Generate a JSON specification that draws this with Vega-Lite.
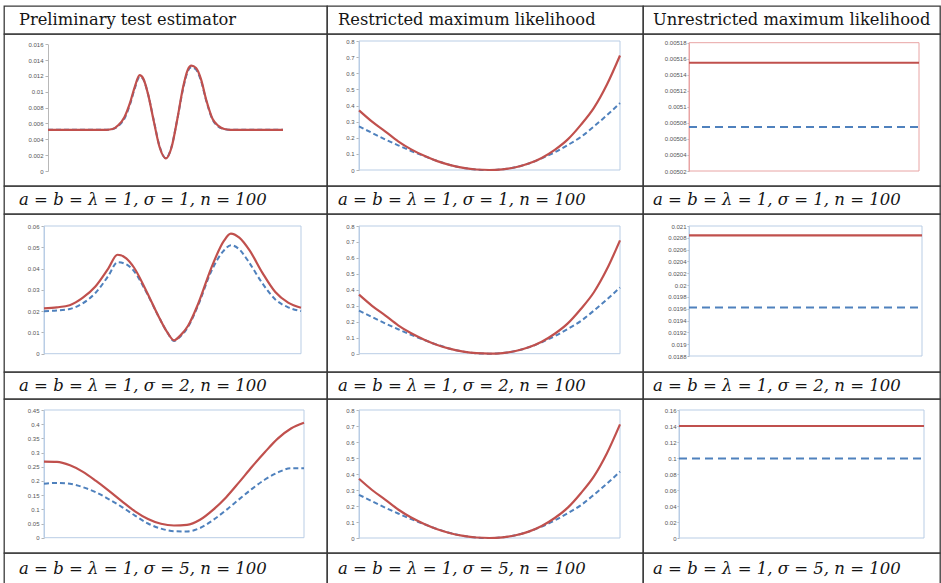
{
"$schema": "https://vega.github.io/schema/vega-lite/v6.json",
"padding": {"left": 3, "top": 5, "right": 2, "bottom": 0},
"background": "white",
"bounds": "flush",
"spacing": 0,
"columns": 3,
"config": {
  "view": {"stroke": "#3a3a3a", "strokeWidth": 1.3},
  "concat": {"spacing": 0},
  "axis": {"title": null, "grid": false, "labelFont": "Liberation Sans", "labelFontSize": 6, "labelColor": "#555555", "labelOverlap": false, "labelFlush": false, "labelBound": false, "labelSeparation": 0, "tickColor": "#b5b5b5", "tickSize": 3, "labelPadding": 2, "domainColor": "#b8b8b8", "format": "~g"},
  "text": {"font": "DejaVu Serif", "fontSize": 16.3, "color": "#151515", "align": "left", "baseline": "middle"}
},
"datasets": {
  "pte1": [
    {"x":0,"S1":0.0052,"S2":0.0052},{"x":0.1,"S1":0.0052,"S2":0.0052},{"x":0.2,"S1":0.0052,"S2":0.0052},{"x":0.25,"S1":0.0052,"S2":0.0052},
    {"x":0.275,"S1":0.0053,"S2":0.0053},{"x":0.3,"S1":0.0058,"S2":0.0057},{"x":0.325,"S1":0.0068,"S2":0.0066},{"x":0.35,"S1":0.0087,"S2":0.0085},
    {"x":0.37,"S1":0.0107,"S2":0.0105},{"x":0.39,"S1":0.0121,"S2":0.0119},{"x":0.405,"S1":0.0117,"S2":0.0116},{"x":0.425,"S1":0.0098,"S2":0.0098},
    {"x":0.45,"S1":0.0063,"S2":0.0064},{"x":0.475,"S1":0.0030,"S2":0.0031},{"x":0.502,"S1":0.0016,"S2":0.0016},{"x":0.525,"S1":0.0029,"S2":0.0030},
    {"x":0.55,"S1":0.0065,"S2":0.0065},{"x":0.575,"S1":0.0106,"S2":0.0104},{"x":0.595,"S1":0.0128,"S2":0.0126},{"x":0.61,"S1":0.0133,"S2":0.0131},
    {"x":0.63,"S1":0.0130,"S2":0.0128},{"x":0.65,"S1":0.0117,"S2":0.0115},{"x":0.675,"S1":0.0088,"S2":0.0087},{"x":0.7,"S1":0.0066,"S2":0.0065},
    {"x":0.725,"S1":0.0057,"S2":0.0056},{"x":0.75,"S1":0.0053,"S2":0.0053},{"x":0.775,"S1":0.0052,"S2":0.0052},{"x":0.9,"S1":0.0052,"S2":0.0052},
    {"x":1,"S1":0.0052,"S2":0.0052}
  ],
  "pte2": [
    {"x":0,"S1":0.0213,"S2":0.0200},{"x":0.05,"S1":0.0218,"S2":0.0203},{"x":0.1,"S1":0.0228,"S2":0.0210},{"x":0.15,"S1":0.0262,"S2":0.0236},
    {"x":0.2,"S1":0.0316,"S2":0.0285},{"x":0.25,"S1":0.0400,"S2":0.0365},{"x":0.286,"S1":0.0465,"S2":0.0430},{"x":0.32,"S1":0.0448,"S2":0.0420},
    {"x":0.35,"S1":0.0405,"S2":0.0388},{"x":0.4,"S1":0.0290,"S2":0.0285},{"x":0.45,"S1":0.0165,"S2":0.0165},{"x":0.48,"S1":0.0100,"S2":0.0100},
    {"x":0.506,"S1":0.0063,"S2":0.0060},{"x":0.53,"S1":0.0085,"S2":0.0080},{"x":0.56,"S1":0.0130,"S2":0.0125},{"x":0.6,"S1":0.0235,"S2":0.0228},
    {"x":0.65,"S1":0.0400,"S2":0.0385},{"x":0.7,"S1":0.0530,"S2":0.0485},{"x":0.727,"S1":0.0564,"S2":0.0510},{"x":0.76,"S1":0.0545,"S2":0.0490},
    {"x":0.8,"S1":0.0485,"S2":0.0425},{"x":0.85,"S1":0.0380,"S2":0.0330},{"x":0.9,"S1":0.0290,"S2":0.0255},{"x":0.95,"S1":0.0240,"S2":0.0218},
    {"x":1,"S1":0.0216,"S2":0.0200}
  ],
  "pte3": [
    {"x":0,"S1":0.268,"S2":0.19},{"x":0.05,"S1":0.267,"S2":0.193},{"x":0.1,"S1":0.255,"S2":0.19},{"x":0.15,"S1":0.232,"S2":0.178},
    {"x":0.2,"S1":0.200,"S2":0.16},{"x":0.25,"S1":0.165,"S2":0.135},{"x":0.3,"S1":0.128,"S2":0.108},{"x":0.35,"S1":0.093,"S2":0.078},
    {"x":0.4,"S1":0.066,"S2":0.05},{"x":0.45,"S1":0.049,"S2":0.032},{"x":0.5,"S1":0.043,"S2":0.023},{"x":0.55,"S1":0.045,"S2":0.022},
    {"x":0.6,"S1":0.063,"S2":0.034},{"x":0.65,"S1":0.098,"S2":0.062},{"x":0.7,"S1":0.142,"S2":0.097},{"x":0.75,"S1":0.195,"S2":0.135},
    {"x":0.8,"S1":0.25,"S2":0.172},{"x":0.85,"S1":0.302,"S2":0.205},{"x":0.9,"S1":0.35,"S2":0.23},{"x":0.95,"S1":0.385,"S2":0.245},
    {"x":1,"S1":0.405,"S2":0.245}
  ],
  "rml": [
    {"x":0,"S1":0.37,"S2":0.27},{"x":0.05,"S1":0.30,"S2":0.23},{"x":0.1,"S1":0.24,"S2":0.19},{"x":0.15,"S1":0.178,"S2":0.153},
    {"x":0.2,"S1":0.128,"S2":0.118},{"x":0.25,"S1":0.088,"S2":0.086},{"x":0.3,"S1":0.055,"S2":0.056},{"x":0.35,"S1":0.030,"S2":0.031},
    {"x":0.4,"S1":0.013,"S2":0.013},{"x":0.45,"S1":0.003,"S2":0.003},{"x":0.5,"S1":0.0,"S2":0.0},{"x":0.55,"S1":0.004,"S2":0.004},
    {"x":0.6,"S1":0.017,"S2":0.017},{"x":0.65,"S1":0.040,"S2":0.040},{"x":0.7,"S1":0.075,"S2":0.072},{"x":0.75,"S1":0.125,"S2":0.11},
    {"x":0.8,"S1":0.19,"S2":0.155},{"x":0.85,"S1":0.28,"S2":0.205},{"x":0.9,"S1":0.385,"S2":0.27},{"x":0.95,"S1":0.53,"S2":0.34},
    {"x":1,"S1":0.71,"S2":0.415}
  ],
  "uml1": [{"x":0,"S1":0.005155,"S2":0.005075},{"x":1,"S1":0.005155,"S2":0.005075}],
  "uml2": [{"x":0,"S1":0.02084,"S2":0.01962},{"x":1,"S1":0.02084,"S2":0.01962}],
  "uml3": [{"x":0,"S1":0.14,"S2":0.0995},{"x":1,"S1":0.14,"S2":0.0995}]
},
"concat": [
  {"width": 323, "height": 28, "data": {"values": [{"label": "Preliminary test estimator"}]}, "mark": {"type": "text", "dx": 15},
   "encoding": {"text": {"field": "label"}, "x": {"datum": 0, "type": "quantitative", "scale": {"domain": [0, 1]}, "axis": null}, "y": {"datum": 0.5, "type": "quantitative", "scale": {"domain": [0, 1]}, "axis": null}}},
  {"width": 316, "height": 28, "data": {"values": [{"label": "Restricted maximum likelihood"}]}, "mark": {"type": "text", "dx": 11},
   "encoding": {"text": {"field": "label"}, "x": {"datum": 0, "type": "quantitative", "scale": {"domain": [0, 1]}, "axis": null}, "y": {"datum": 0.5, "type": "quantitative", "scale": {"domain": [0, 1]}, "axis": null}}},
  {"width": 297, "height": 28, "data": {"values": [{"label": "Unrestricted maximum likelihood"}]}, "mark": {"type": "text", "dx": 10},
   "encoding": {"text": {"field": "label"}, "x": {"datum": 0, "type": "quantitative", "scale": {"domain": [0, 1]}, "axis": null}, "y": {"datum": 0.5, "type": "quantitative", "scale": {"domain": [0, 1]}, "axis": null}}},

  {"width": 323, "height": 152, "data": {"name": "pte1"}, "layer": [
    {"mark": {"type": "line", "color": "#4f81bd", "strokeWidth": 2, "strokeDash": [5, 3], "interpolate": "monotone"},
     "encoding": {"x": {"field": "x", "type": "quantitative", "axis": null, "scale": {"domain": [0, 1], "range": [44, 279], "nice": false, "zero": false}},
                  "y": {"field": "S2", "type": "quantitative", "scale": {"domain": [0, 0.016], "range": [137, 10.3], "nice": false, "zero": false},
                        "axis": {"offset": -44, "tickCount": 30, "labelOverlap": false, "values": [0,0.002,0.004,0.006,0.008,0.01,0.012,0.014,0.016]}}}},
    {"mark": {"type": "line", "color": "#c0504d", "strokeWidth": 2.2, "interpolate": "monotone"},
     "encoding": {"x": {"field": "x", "type": "quantitative"}, "y": {"field": "S1", "type": "quantitative"}}}
  ]},
  {"width": 316, "height": 152, "data": {"name": "rml"}, "layer": [
    {"data": {"values": [{}]}, "mark": {"type": "rect", "fill": "transparent", "stroke": "#b9cde5", "strokeWidth": 1},
     "encoding": {"x": {"datum": 0}, "x2": {"datum": 1}, "y": {"datum": 0}, "y2": {"datum": 0.8}}},
    {"mark": {"type": "line", "color": "#4f81bd", "strokeWidth": 2, "strokeDash": [5, 3], "interpolate": "monotone"},
     "encoding": {"x": {"field": "x", "type": "quantitative", "axis": null, "scale": {"domain": [0, 1], "range": [32, 293], "nice": false, "zero": false}},
                  "y": {"field": "S2", "type": "quantitative", "scale": {"domain": [0, 0.8], "range": [136, 7], "nice": false, "zero": false},
                        "axis": {"offset": -32, "tickCount": 30, "labelOverlap": false, "values": [0,0.1,0.2,0.3,0.4,0.5,0.6,0.7,0.8], "domainColor": "#b9cde5"}}}},
    {"mark": {"type": "line", "color": "#c0504d", "strokeWidth": 2.2, "interpolate": "monotone"},
     "encoding": {"x": {"field": "x", "type": "quantitative"}, "y": {"field": "S1", "type": "quantitative"}}}
  ]},
  {"width": 297, "height": 152, "data": {"name": "uml1"}, "layer": [
    {"data": {"values": [{}]}, "mark": {"type": "rect", "fill": "transparent", "stroke": "#e8a4a4", "strokeWidth": 1},
     "encoding": {"x": {"datum": 0}, "x2": {"datum": 1}, "y": {"datum": 0.00502}, "y2": {"datum": 0.00518}}},
    {"mark": {"type": "line", "color": "#4f81bd", "strokeWidth": 2, "strokeDash": [8, 5]},
     "encoding": {"x": {"field": "x", "type": "quantitative", "axis": null, "scale": {"domain": [0, 1], "range": [46, 276], "nice": false, "zero": false}},
                  "y": {"field": "S2", "type": "quantitative", "scale": {"domain": [0.00502, 0.00518], "range": [137, 8.7], "nice": false, "zero": false},
                        "axis": {"offset": -46, "tickCount": 30, "labelOverlap": false, "values": [0.00502,0.00504,0.00506,0.00508,0.0051,0.00512,0.00514,0.00516,0.00518], "tickSize": 2, "labelPadding": 1, "domainColor": "#e8a4a4"}}}},
    {"mark": {"type": "line", "color": "#c0504d", "strokeWidth": 2.2},
     "encoding": {"x": {"field": "x", "type": "quantitative"}, "y": {"field": "S1", "type": "quantitative"}}}
  ]},

  {"width": 323, "height": 28, "data": {"values": [{"label": "a = b = λ = 1, σ = 1, n = 100"}]}, "mark": {"type": "text", "dx": 15, "fontStyle": "italic", "fontSize": 16.5},
   "encoding": {"text": {"field": "label"}, "x": {"datum": 0, "type": "quantitative", "scale": {"domain": [0, 1]}, "axis": null}, "y": {"datum": 0.5, "type": "quantitative", "scale": {"domain": [0, 1]}, "axis": null}}},
  {"width": 316, "height": 28, "data": {"values": [{"label": "a = b = λ = 1, σ = 1, n = 100"}]}, "mark": {"type": "text", "dx": 11, "fontStyle": "italic", "fontSize": 16.5},
   "encoding": {"text": {"field": "label"}, "x": {"datum": 0, "type": "quantitative", "scale": {"domain": [0, 1]}, "axis": null}, "y": {"datum": 0.5, "type": "quantitative", "scale": {"domain": [0, 1]}, "axis": null}}},
  {"width": 297, "height": 28, "data": {"values": [{"label": "a = b = λ = 1, σ = 1, n = 100"}]}, "mark": {"type": "text", "dx": 10, "fontStyle": "italic", "fontSize": 16.5},
   "encoding": {"text": {"field": "label"}, "x": {"datum": 0, "type": "quantitative", "scale": {"domain": [0, 1]}, "axis": null}, "y": {"datum": 0.5, "type": "quantitative", "scale": {"domain": [0, 1]}, "axis": null}}},

  {"width": 323, "height": 158, "data": {"name": "pte2"}, "layer": [
    {"data": {"values": [{}]}, "mark": {"type": "rect", "fill": "transparent", "stroke": "#b9cde5", "strokeWidth": 1},
     "encoding": {"x": {"datum": 0}, "x2": {"datum": 1}, "y": {"datum": 0}, "y2": {"datum": 0.06}}},
    {"mark": {"type": "line", "color": "#4f81bd", "strokeWidth": 2, "strokeDash": [5, 3], "interpolate": "monotone"},
     "encoding": {"x": {"field": "x", "type": "quantitative", "axis": null, "scale": {"domain": [0, 1], "range": [40, 297], "nice": false, "zero": false}},
                  "y": {"field": "S2", "type": "quantitative", "scale": {"domain": [0, 0.06], "range": [139.7, 12], "nice": false, "zero": false},
                        "axis": {"offset": -40, "tickCount": 30, "labelOverlap": false, "values": [0,0.01,0.02,0.03,0.04,0.05,0.06], "domainColor": "#b9cde5"}}}},
    {"mark": {"type": "line", "color": "#c0504d", "strokeWidth": 2.2, "interpolate": "monotone"},
     "encoding": {"x": {"field": "x", "type": "quantitative"}, "y": {"field": "S1", "type": "quantitative"}}}
  ]},
  {"width": 316, "height": 158, "data": {"name": "rml"}, "layer": [
    {"data": {"values": [{}]}, "mark": {"type": "rect", "fill": "transparent", "stroke": "#b9cde5", "strokeWidth": 1},
     "encoding": {"x": {"datum": 0}, "x2": {"datum": 1}, "y": {"datum": 0}, "y2": {"datum": 0.8}}},
    {"mark": {"type": "line", "color": "#4f81bd", "strokeWidth": 2, "strokeDash": [5, 3], "interpolate": "monotone"},
     "encoding": {"x": {"field": "x", "type": "quantitative", "axis": null, "scale": {"domain": [0, 1], "range": [32, 293], "nice": false, "zero": false}},
                  "y": {"field": "S2", "type": "quantitative", "scale": {"domain": [0, 0.8], "range": [139.7, 12], "nice": false, "zero": false},
                        "axis": {"offset": -32, "tickCount": 30, "labelOverlap": false, "values": [0,0.1,0.2,0.3,0.4,0.5,0.6,0.7,0.8], "domainColor": "#b9cde5"}}}},
    {"mark": {"type": "line", "color": "#c0504d", "strokeWidth": 2.2, "interpolate": "monotone"},
     "encoding": {"x": {"field": "x", "type": "quantitative"}, "y": {"field": "S1", "type": "quantitative"}}}
  ]},
  {"width": 297, "height": 158, "data": {"name": "uml2"}, "layer": [
    {"data": {"values": [{}]}, "mark": {"type": "rect", "fill": "transparent", "stroke": "#b9cde5", "strokeWidth": 1},
     "encoding": {"x": {"datum": 0}, "x2": {"datum": 1}, "y": {"datum": 0.0188}, "y2": {"datum": 0.021}}},
    {"mark": {"type": "line", "color": "#4f81bd", "strokeWidth": 2, "strokeDash": [8, 5]},
     "encoding": {"x": {"field": "x", "type": "quantitative", "axis": null, "scale": {"domain": [0, 1], "range": [46, 279], "nice": false, "zero": false}},
                  "y": {"field": "S2", "type": "quantitative", "scale": {"domain": [0.0188, 0.021], "range": [142, 12], "nice": false, "zero": false},
                        "axis": {"offset": -46, "tickCount": 30, "labelOverlap": false, "values": [0.0188,0.019,0.0192,0.0194,0.0196,0.0198,0.02,0.0202,0.0204,0.0206,0.0208,0.021], "tickSize": 2, "labelPadding": 1, "domainColor": "#b9cde5"}}}},
    {"mark": {"type": "line", "color": "#c0504d", "strokeWidth": 2.2},
     "encoding": {"x": {"field": "x", "type": "quantitative"}, "y": {"field": "S1", "type": "quantitative"}}}
  ]},

  {"width": 323, "height": 27, "data": {"values": [{"label": "a = b = λ = 1, σ = 2, n = 100"}]}, "mark": {"type": "text", "dx": 15, "fontStyle": "italic", "fontSize": 16.5},
   "encoding": {"text": {"field": "label"}, "x": {"datum": 0, "type": "quantitative", "scale": {"domain": [0, 1]}, "axis": null}, "y": {"datum": 0.5, "type": "quantitative", "scale": {"domain": [0, 1]}, "axis": null}}},
  {"width": 316, "height": 27, "data": {"values": [{"label": "a = b = λ = 1, σ = 2, n = 100"}]}, "mark": {"type": "text", "dx": 11, "fontStyle": "italic", "fontSize": 16.5},
   "encoding": {"text": {"field": "label"}, "x": {"datum": 0, "type": "quantitative", "scale": {"domain": [0, 1]}, "axis": null}, "y": {"datum": 0.5, "type": "quantitative", "scale": {"domain": [0, 1]}, "axis": null}}},
  {"width": 297, "height": 27, "data": {"values": [{"label": "a = b = λ = 1, σ = 2, n = 100"}]}, "mark": {"type": "text", "dx": 10, "fontStyle": "italic", "fontSize": 16.5},
   "encoding": {"text": {"field": "label"}, "x": {"datum": 0, "type": "quantitative", "scale": {"domain": [0, 1]}, "axis": null}, "y": {"datum": 0.5, "type": "quantitative", "scale": {"domain": [0, 1]}, "axis": null}}},

  {"width": 323, "height": 154, "data": {"name": "pte3"}, "layer": [
    {"data": {"values": [{}]}, "mark": {"type": "rect", "fill": "transparent", "stroke": "#b9cde5", "strokeWidth": 1},
     "encoding": {"x": {"datum": 0}, "x2": {"datum": 1}, "y": {"datum": 0}, "y2": {"datum": 0.45}}},
    {"mark": {"type": "line", "color": "#4f81bd", "strokeWidth": 2, "strokeDash": [5, 3], "interpolate": "monotone"},
     "encoding": {"x": {"field": "x", "type": "quantitative", "axis": null, "scale": {"domain": [0, 1], "range": [40, 300], "nice": false, "zero": false}},
                  "y": {"field": "S2", "type": "quantitative", "scale": {"domain": [0, 0.45], "range": [138.7, 11], "nice": false, "zero": false},
                        "axis": {"offset": -40, "tickCount": 30, "labelOverlap": false, "values": [0,0.05,0.1,0.15,0.2,0.25,0.3,0.35,0.4,0.45], "domainColor": "#b9cde5"}}}},
    {"mark": {"type": "line", "color": "#c0504d", "strokeWidth": 2.2, "interpolate": "monotone"},
     "encoding": {"x": {"field": "x", "type": "quantitative"}, "y": {"field": "S1", "type": "quantitative"}}}
  ]},
  {"width": 316, "height": 154, "data": {"name": "rml"}, "layer": [
    {"data": {"values": [{}]}, "mark": {"type": "rect", "fill": "transparent", "stroke": "#b9cde5", "strokeWidth": 1},
     "encoding": {"x": {"datum": 0}, "x2": {"datum": 1}, "y": {"datum": 0}, "y2": {"datum": 0.8}}},
    {"mark": {"type": "line", "color": "#4f81bd", "strokeWidth": 2, "strokeDash": [5, 3], "interpolate": "monotone"},
     "encoding": {"x": {"field": "x", "type": "quantitative", "axis": null, "scale": {"domain": [0, 1], "range": [32, 293], "nice": false, "zero": false}},
                  "y": {"field": "S2", "type": "quantitative", "scale": {"domain": [0, 0.8], "range": [139, 11], "nice": false, "zero": false},
                        "axis": {"offset": -32, "tickCount": 30, "labelOverlap": false, "values": [0,0.1,0.2,0.3,0.4,0.5,0.6,0.7,0.8], "domainColor": "#b9cde5"}}}},
    {"mark": {"type": "line", "color": "#c0504d", "strokeWidth": 2.2, "interpolate": "monotone"},
     "encoding": {"x": {"field": "x", "type": "quantitative"}, "y": {"field": "S1", "type": "quantitative"}}}
  ]},
  {"width": 297, "height": 154, "data": {"name": "uml3"}, "layer": [
    {"data": {"values": [{}]}, "mark": {"type": "rect", "fill": "transparent", "stroke": "#b9cde5", "strokeWidth": 1},
     "encoding": {"x": {"datum": 0}, "x2": {"datum": 1}, "y": {"datum": 0}, "y2": {"datum": 0.16}}},
    {"mark": {"type": "line", "color": "#4f81bd", "strokeWidth": 2, "strokeDash": [8, 5]},
     "encoding": {"x": {"field": "x", "type": "quantitative", "axis": null, "scale": {"domain": [0, 1], "range": [36, 281], "nice": false, "zero": false}},
                  "y": {"field": "S2", "type": "quantitative", "scale": {"domain": [0, 0.16], "range": [139, 11], "nice": false, "zero": false},
                        "axis": {"offset": -36, "tickCount": 30, "labelOverlap": false, "values": [0,0.02,0.04,0.06,0.08,0.1,0.12,0.14,0.16], "tickSize": 2, "labelPadding": 1, "domainColor": "#b9cde5"}}}},
    {"mark": {"type": "line", "color": "#c0504d", "strokeWidth": 2.2},
     "encoding": {"x": {"field": "x", "type": "quantitative"}, "y": {"field": "S1", "type": "quantitative"}}}
  ]},

  {"width": 323, "height": 31, "data": {"values": [{"label": "a = b = λ = 1, σ = 5, n = 100"}]}, "mark": {"type": "text", "dx": 15, "fontStyle": "italic", "fontSize": 16.5},
   "encoding": {"text": {"field": "label"}, "x": {"datum": 0, "type": "quantitative", "scale": {"domain": [0, 1]}, "axis": null}, "y": {"datum": 0.5, "type": "quantitative", "scale": {"domain": [0, 1]}, "axis": null}}},
  {"width": 316, "height": 31, "data": {"values": [{"label": "a = b = λ = 1, σ = 5, n = 100"}]}, "mark": {"type": "text", "dx": 11, "fontStyle": "italic", "fontSize": 16.5},
   "encoding": {"text": {"field": "label"}, "x": {"datum": 0, "type": "quantitative", "scale": {"domain": [0, 1]}, "axis": null}, "y": {"datum": 0.5, "type": "quantitative", "scale": {"domain": [0, 1]}, "axis": null}}},
  {"width": 297, "height": 31, "data": {"values": [{"label": "a = b = λ = 1, σ = 5, n = 100"}]}, "mark": {"type": "text", "dx": 10, "fontStyle": "italic", "fontSize": 16.5},
   "encoding": {"text": {"field": "label"}, "x": {"datum": 0, "type": "quantitative", "scale": {"domain": [0, 1]}, "axis": null}, "y": {"datum": 0.5, "type": "quantitative", "scale": {"domain": [0, 1]}, "axis": null}}}
]
}
